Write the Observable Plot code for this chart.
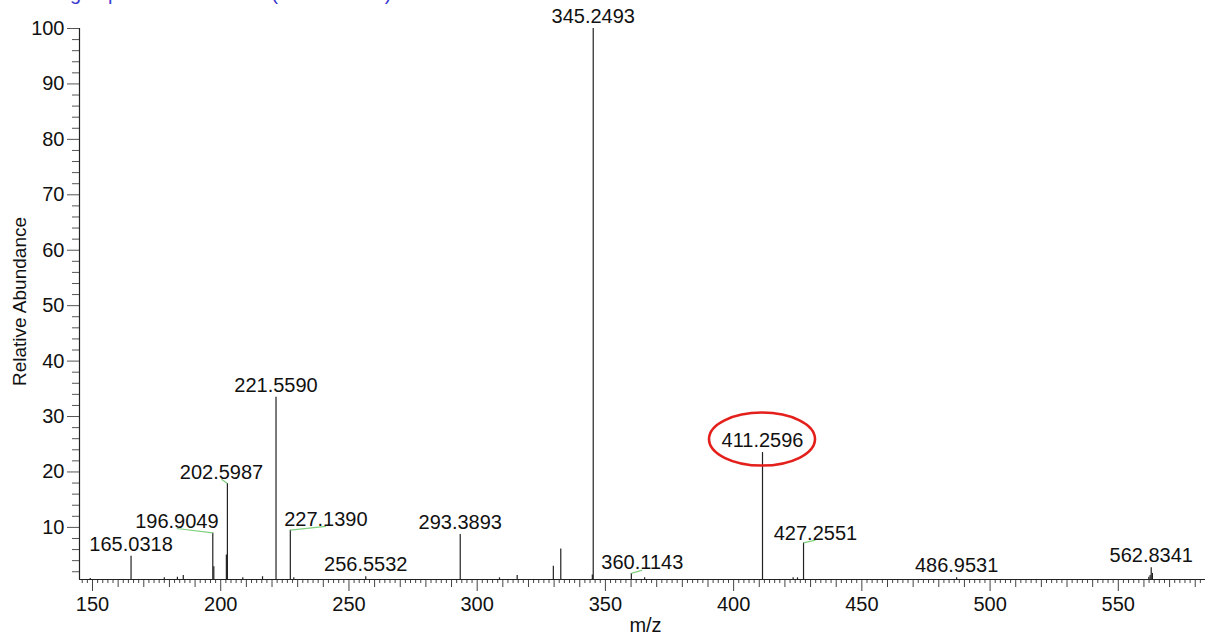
<!DOCTYPE html>
<html>
<head>
<meta charset="utf-8">
<script src="https://cdn.jsdelivr.net/npm/d3@7"></script>
<script src="https://cdn.jsdelivr.net/npm/@observablehq/plot@0.6"></script>
<style>
  html, body { margin: 0; padding: 0; background: #fff; }
  #wrap { position: relative; width: 1207px; height: 641px; overflow: hidden; }
  #title {
    position: absolute; left: -4px; top: -18px;
    font: 20px "Liberation Sans", Arial, sans-serif; color: #3c3cd0;
    white-space: nowrap;
  }
</style>
</head>
<body>
<div id="wrap">
  <div id="title">F: Average spectrum MS2 345 (40.67-41.57)</div>
  <div id="chart"></div>
</div>
<script>
// MS2 spectrum: centroid peaks (m/z, relative abundance %)
const peakMz = [
  149.1, 165.0318, 178.0, 183.1, 185.4, 196.9049, 197.3, 202.2, 202.5987,
  208.6, 216.3, 221.5590, 227.1390, 228.5, 256.5532, 293.3893, 308.7, 315.6,
  329.7, 332.6, 344.9, 345.2493, 360.1143, 365.3, 411.2596, 423.2, 424.9,
  427.2551, 486.9531, 561.9, 562.4, 562.8341, 563.3
];
const peakAbundance = [
  0.8, 4.8, 0.9, 1.0, 1.3, 9.0, 2.9, 5.0, 17.9,
  0.9, 1.1, 33.5, 9.5, 0.9, 1.1, 8.7, 0.9, 1.3,
  3.0, 6.1, 1.4, 100, 1.7, 0.9, 23.5, 0.9, 0.9,
  7.2, 0.9, 1.0, 1.3, 2.7, 1.7
];

// peaks annotated with their m/z
const labelledMz = [
  165.0318, 196.9049, 202.5987, 221.5590, 227.1390, 256.5532, 293.3893,
  345.2493, 360.1143, 411.2596, 427.2551, 486.9531, 562.8341
];

// annotations moved aside from their peak, joined back by a leader line
const leaderMz = [196.9049, 202.5987, 227.1390, 360.1143, 427.2551];
const leaderLabelMz = [182.9, 200.3, 241.0, 364.4, 431.9];
const leaderLabelAbundance = [9.8, 18.7, 10.2, 2.3, 7.7];

// highlighted precursor-related ion
const circledMz = 411.2596;

// axis ticks
const xMajorTicks = d3.range(150, 551, 50);
const xMidTicks = d3.range(150, 584, 10).filter(v => v % 50 !== 0);
const xMinorTicks = d3.range(146, 584, 2).filter(v => v % 10 !== 0);
const yMajorTicks = d3.range(10, 101, 10);
const yMinorTicks = d3.range(2, 100, 2).filter(v => v % 10 !== 0);

const xDomain = [144.93, 584];
const yDomain = [0.6, 100];

const peaks = peakMz.map((mz, i) => ({mz, ab: peakAbundance[i]}));
const abOf = mz => peaks.find(p => p.mz === mz).ab;

const leaders = leaderMz.map((mz, i) => ({
  mz, ab: abOf(mz), lx: leaderLabelMz[i], ly: leaderLabelAbundance[i]
}));
const plainLabels = labelledMz
  .filter(mz => !leaderMz.includes(mz))
  .map(mz => ({mz, ab: abOf(mz)}));

const font = "'Liberation Sans', Arial, sans-serif";
const fmt = v => v.toFixed(4);
const fs = 20;

// red ring drawn around the annotation of the circled peak
function ring(index, scales) {
  const cx = scales.x(circledMz);
  const cy = scales.y(abOf(circledMz)) - 13;
  const el = d3.create("svg:ellipse")
    .attr("cx", cx).attr("cy", cy)
    .attr("rx", 53).attr("ry", 26.5)
    .attr("fill", "none").attr("stroke", "#e3201b").attr("stroke-width", 2.6);
  return el.node();
}

const chart = Plot.plot({
  width: 1207,
  height: 641,
  marginLeft: 79,
  marginRight: 2,
  marginTop: 28,
  marginBottom: 62,
  style: {fontFamily: font, fontSize: fs + "px", color: "#111", background: "#fff"},
  x: {domain: xDomain},
  y: {domain: yDomain},
  marks: [
    // axes
    Plot.axisX(xMinorTicks, {tickSize: 4, tickFormat: () => "", stroke: "#444", label: null}),
    Plot.axisX(xMidTicks, {tickSize: 8, tickFormat: () => "", stroke: "#444", label: null}),
    Plot.axisX(xMajorTicks, {tickSize: 12, tickPadding: 5, tickFormat: d => String(d), stroke: "#444", label: null, fontSize: fs}),
    Plot.axisY(yMinorTicks, {tickSize: 7, tickFormat: () => "", stroke: "#555", label: null}),
    Plot.axisY(yMajorTicks, {tickSize: 12, tickPadding: 3, tickFormat: d => String(d), stroke: "#555", label: null, fontSize: fs}),
    Plot.ruleY([yDomain[0]], {stroke: "#222", strokeWidth: 1.2}),
    Plot.ruleX([xDomain[0]], {stroke: "#222", strokeWidth: 1.2}),

    // axis titles
    Plot.text(["Relative Abundance"], {frameAnchor: "left", dx: -60, dy: 82, rotate: -90, fontSize: fs - 1, fill: "#111"}),
    Plot.text(["m/z"], {frameAnchor: "bottom", dx: 3, dy: 52, fontSize: fs, fill: "#111"}),

    // spectrum sticks
    Plot.ruleX(peaks, {x: "mz", y1: yDomain[0], y2: "ab", stroke: "#222", strokeWidth: 1.2}),

    // leader lines
    Plot.link(leaders, {x1: "mz", y1: "ab", x2: "lx", y2: "ly", stroke: "#7fcf7f", strokeWidth: 1.2}),

    // peak annotations
    Plot.text(plainLabels, {x: "mz", y: "ab", text: d => fmt(d.mz), dy: -12, fontSize: fs, fill: "#111"}),
    Plot.text(leaders, {x: "lx", y: "ly", text: d => fmt(d.mz), dy: -7, fontSize: fs, fill: "#111"}),

    ring
  ]
});

document.getElementById("chart").appendChild(chart);
</script>
</body>
</html>
